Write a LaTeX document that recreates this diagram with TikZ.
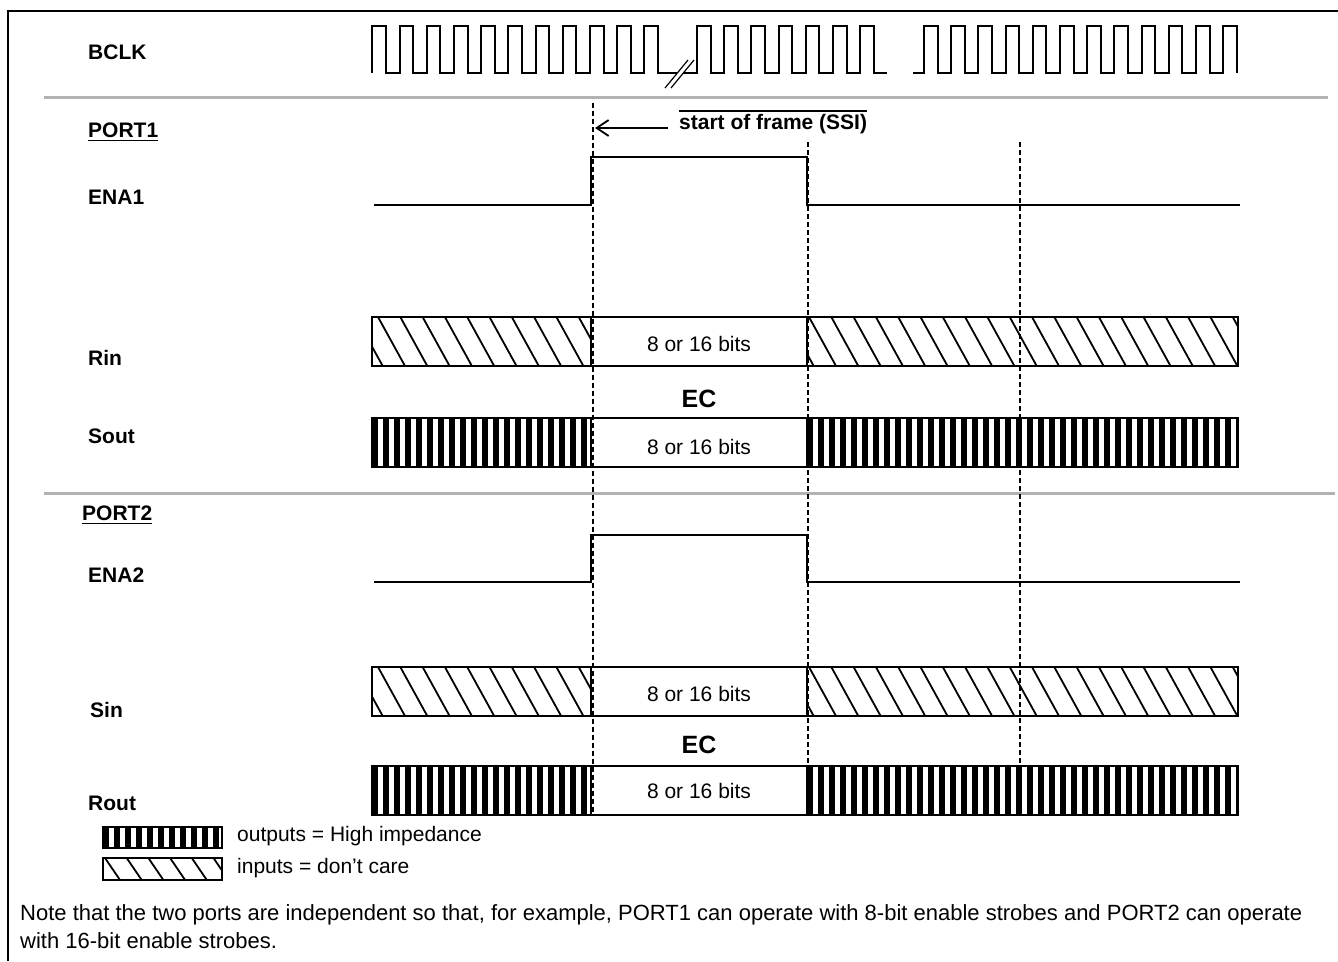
\documentclass[tikz,border=0pt]{standalone}
\usepackage{fontspec}
\setmainfont{Liberation Sans}
\usetikzlibrary{arrows.meta}
\tikzset{
  lbl/.style={font=\fontsize{21}{25}\selectfont\bfseries, anchor=west, inner sep=0pt},
  eclbl/.style={font=\fontsize{25}{29}\selectfont\bfseries, inner sep=0pt},
  txt/.style={font=\fontsize{21}{25}\selectfont, inner sep=0pt},
  notetxt/.style={font=\fontsize{22}{26}\selectfont, inner sep=0pt, anchor=west},
  sig/.style={line width=2pt, line join=miter},
  boxline/.style={line width=2.6pt},
  hatchline/.style={line width=1.8pt},
  guide/.style={line width=1.5pt, dash pattern=on 5pt off 3pt},
  sepline/.style={line width=3pt, draw=black!30},
  arr/.style={line width=1.8pt, -{Straight Barb[length=12pt,width=16pt,line width=1.8pt]}},
}
% #1 x1, #2 x2, #3 top, #4 bottom, #5 spacing, #6 dx, #7 phase
\newcommand\hatchreg[7]{%
  \begin{scope}
    \clip (#1,#3) rectangle (#2,#4);
    \foreach \i in {-3,...,22}
      \draw[hatchline] ({#1+#7+#5*\i},#3) -- ({#1+#7+#5*\i+#6},#4);
  \end{scope}}
% #1 x1, #2 x2, #3 top, #4 bottom
\newcommand\stripereg[4]{%
  \begin{scope}
    \clip (#1,#3) rectangle (#2,#4);
    \foreach \i in {0,...,40}
      \fill ({#1+11*\i-0.5},#3) rectangle ({#1+11*\i+5.5},#4);
  \end{scope}}
% data row: #1 top, #2 bottom, #3 kind (h or s)
\newcommand\datarow[3]{%
  \if#3h
    \hatchreg{372}{591}{#1}{#2}{22.3}{27}{6}
    \hatchreg{807}{1238}{#1}{#2}{22.3}{27}{2}
  \else
    \stripereg{372}{591}{#1}{#2}
    \stripereg{807}{1238}{#1}{#2}
  \fi
  \draw[boxline] (372,#1) rectangle (1238,#2);
  \draw[boxline] (591,#1) -- (591,#2);
  \draw[boxline] (807,#1) -- (807,#2);}
\begin{document}
\begin{tikzpicture}[x=1pt,y=-1pt]
\useasboundingbox (0,0) rectangle (1338,961);
% frame
\draw[line width=1.8pt] (8,961) -- (8,11) -- (1338,11);
% separators
\draw[sepline] (44,97) -- (1328,97);
\draw[sepline] (44,493) -- (1335,493);

% labels
\node[lbl] (bclk) at (88,52) {BCLK};
\node[lbl] (port1) at (88,130) {PORT1};
\draw[line width=1.3pt] ([yshift=-3pt]port1.south west) -- ([yshift=-3pt]port1.south east);
\node[lbl] (ena1) at (88,197) {ENA1};
\node[lbl] (rin) at (88,358) {Rin};
\node[lbl] (sout) at (88,436) {Sout};
\node[lbl] (port2) at (82,513) {PORT2};
\draw[line width=1.3pt] ([yshift=-3pt]port2.south west) -- ([yshift=-3pt]port2.south east);
\node[lbl] (ena2) at (88,575) {ENA2};
\node[lbl] (sin) at (90,710) {Sin};
\node[lbl] (rout) at (88,803) {Rout};

% BCLK waveform
\draw[sig] (372.4,73)
  \foreach \k in {0,...,10} { -- ({372.4+27.2*\k},73) -- ({372.4+27.2*\k},26) -- ({386+27.2*\k},26) -- ({386+27.2*\k},73) }
  -- (677.3,73);
\draw[sig] (683.3,73)
  \foreach \k in {0,...,6} { -- ({697+27.2*\k},73) -- ({697+27.2*\k},26) -- ({710.6+27.2*\k},26) -- ({710.6+27.2*\k},73) }
  -- (887,73);
\draw[sig] (913,73)
  \foreach \k in {0,...,11} { -- ({924+27.2*\k},73) -- ({924+27.2*\k},26) -- ({937.6+27.2*\k},26) -- ({937.6+27.2*\k},73) };
\draw[line width=1.2pt] (665,88) -- (688,60);
\draw[line width=1.2pt] (671,88) -- (694,60);

% ENA signals
\draw[sig] (374,205) -- (591,205) -- (591,157) -- (807,157) -- (807,205) -- (1240,205);
\draw[sig] (374,582) -- (591,582) -- (591,535) -- (807,535) -- (807,582) -- (1240,582);

% data rows
\datarow{317}{366}{h}
\datarow{418}{467}{s}
\datarow{667}{716}{h}
\datarow{766}{815}{s}
\node[txt] (d1) at (699,344) {8 or 16 bits};
\node[txt] (d2) at (699,447) {8 or 16 bits};
\node[txt] (d3) at (699,694) {8 or 16 bits};
\node[txt] (d4) at (699,791) {8 or 16 bits};
\node[eclbl] (ec1) at (699,399) {EC};
\node[eclbl] (ec2) at (699,745) {EC};

% guides
\coordinate (g1t) at (593,103); \coordinate (g1b) at (593,815);
\coordinate (g2t) at (808,142); \coordinate (g2b) at (808,815);
\coordinate (g3t) at (1020,142); \coordinate (g3b) at (1020,815);
\draw[guide] (g1t) -- (g1b);
\draw[guide] (g2t) -- (g2b);
\draw[guide] (g3t) -- (g3b);

% start of frame
\node[lbl] (sof) at (679,124) {start of frame (SSI)};
\draw[line width=1.3pt] ([yshift=3pt]sof.north west) -- ([yshift=3pt]sof.north east);
\coordinate (sofend) at (595,128);
\draw[arr] ([xshift=-11pt,yshift=-4pt]sof.west) -- (sofend);

% legend
\stripereg{103}{222}{827}{848}
\draw[line width=2pt] (103,827) rectangle (222,848);
\hatchreg{103}{222}{858}{880}{21.7}{15}{2}
\draw[line width=2pt] (103,858) rectangle (222,880);
\node[txt, anchor=west] (leg1) at (237,836) {outputs = High impedance};
\node[txt, anchor=west] (leg2) at (237,868) {inputs = don’t care};

% note
\node[notetxt] (note1) at (20,915) {Note that the two ports are independent so that, for example, PORT1 can operate with 8-bit enable strobes and PORT2 can operate};
\node[notetxt] (note2) at (20,941) {with 16-bit enable strobes.};
\end{tikzpicture}
\end{document}
